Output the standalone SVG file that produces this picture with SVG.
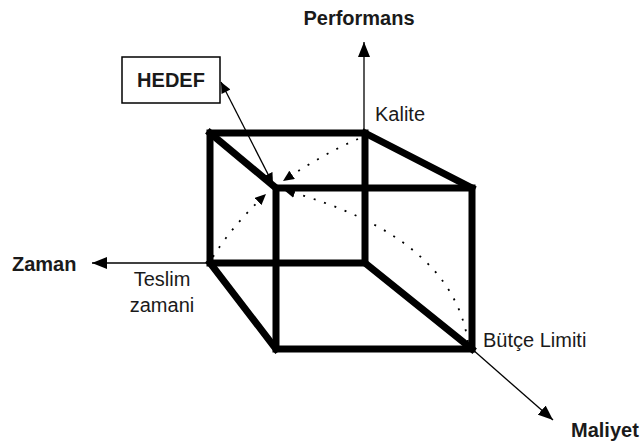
<svg xmlns="http://www.w3.org/2000/svg" width="644" height="444" viewBox="0 0 644 444">
<style>
  .lbl{font-family:"Liberation Sans",Arial,sans-serif;font-size:20px;fill:#1a1a1a}
  .b{font-weight:bold}
  .edge{stroke:#000;stroke-width:7;fill:none;stroke-linecap:square}
  .axis{stroke:#000;stroke-width:1.3;fill:none}
  .dot{stroke:#000;stroke-width:1.8;fill:none;stroke-dasharray:2 9}
</style>
<defs>
  <marker id="ah" markerUnits="userSpaceOnUse" markerWidth="16" markerHeight="12" refX="15" refY="6" orient="auto">
    <path d="M0,0 L15,6 L0,12 Z" fill="#000"/>
  </marker>
  <marker id="ahs" markerUnits="userSpaceOnUse" markerWidth="12" markerHeight="10" refX="11" refY="5" orient="auto">
    <path d="M0,0 L11,5 L0,10 Z" fill="#000"/>
  </marker>
  <marker id="ahs0" markerUnits="userSpaceOnUse" markerWidth="12" markerHeight="10" refX="0" refY="5" orient="auto">
    <path d="M11,0 L0,5 L11,10 Z" fill="#000"/>
  </marker>
</defs>

<g id="connectors">
  <line class="axis" x1="364" y1="133" x2="364" y2="42" marker-end="url(#ah)"/>
  <line class="axis" x1="210" y1="263" x2="92" y2="263" marker-end="url(#ah)"/>
  <line class="axis" x1="472" y1="349" x2="553" y2="420" marker-end="url(#ah)"/>
  <line class="axis" x1="221" y1="82" x2="273" y2="184" marker-start="url(#ahs0)" marker-end="url(#ahs)"/>
  <path class="dot" d="M358,139 Q323,154 283,181" marker-end="url(#ahs)"/>
  <path class="dot" d="M213,257 Q232,226 266,194" marker-end="url(#ahs)"/>
  <path class="dot" d="M468,342 Q452,236 284,190" marker-end="url(#ahs)"/>
</g>

<g id="cube">
  <rect class="edge" x="210" y="133" width="155" height="130"/>
  <line class="edge" x1="210" y1="133" x2="276" y2="188"/>
  <line class="edge" x1="365" y1="133" x2="472" y2="188"/>
  <line class="edge" x1="210" y1="263" x2="276" y2="349"/>
  <line class="edge" x1="365" y1="263" x2="472" y2="349"/>
  <rect class="edge" x="276" y="188" width="196" height="161"/>
</g>

<g id="hedef">
  <rect x="122" y="57" width="98" height="46" fill="#fff" stroke="#000" stroke-width="1.5"/>
  <text class="lbl b" x="171" y="87" text-anchor="middle">HEDEF</text>
</g>
<g id="performans"><text class="lbl b" x="359" y="25" text-anchor="middle">Performans</text></g>
<g id="kalite"><text class="lbl" x="375" y="121">Kalite</text></g>
<g id="zaman"><text class="lbl b" x="12" y="271">Zaman</text></g>
<g id="teslim"><text class="lbl" x="162" y="286" text-anchor="middle">Teslim</text><text class="lbl" x="162" y="312" text-anchor="middle">zamani</text></g>
<g id="butce"><text class="lbl" x="483" y="347">Bütçe Limiti</text></g>
<g id="maliyet"><text class="lbl b" x="571" y="437">Maliyet</text></g>
</svg>
